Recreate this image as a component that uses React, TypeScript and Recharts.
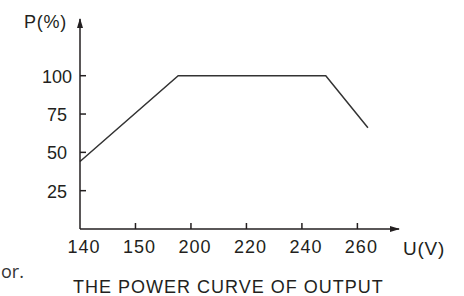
import React from 'react';
import { LineChart, Line, XAxis, YAxis } from 'recharts';

// voltage axis: labels sit on evenly spaced ticks (not a linear voltage scale)
const voltageLabels = ['140', '150', '200', '220', '240', '260'];
const voltageTicks = [0, 1, 2, 3, 4, 5];
const powerTicks = [25, 50, 75, 100];

// curve corners, x given in tick units along the voltage axis
const curveU = [0, 1.77, 4.43, 5.19];
const curveP = [44, 100, 100, 66];

const data = curveU.map((u, i) => ({ u, p: curveP[i] }));

const ink = '#231f20';
const font = '"Liberation Sans", Arial, sans-serif';

const PowerTick = (props: any) => {
  const { x, y, payload } = props;
  return (
    <g>
      <line x1={x} x2={x + 6} y1={y} y2={y} stroke={ink} strokeWidth={1.5} />
      <text x={x - 23} y={y + 1} textAnchor="middle" dominantBaseline="central" fontSize={18} fill={ink} fontFamily={font}>
        {payload.value}
      </text>
    </g>
  );
};

const VoltageTick = (props: any) => {
  const { x, y, payload } = props;
  return (
    <g>
      {payload.value > 0 && <line x1={x} x2={x} y1={y} y2={y - 6} stroke={ink} strokeWidth={1.5} />}
      <text x={x + 4} y={y + 24} textAnchor="middle" fontSize={18} letterSpacing={1} fill={ink} fontFamily={font}>
        {voltageLabels[payload.value]}
      </text>
    </g>
  );
};

export default function App() {
  return (
    <div style={{ position: 'absolute', left: 0, top: 0, width: 464, height: 296, background: '#fff' }}>
      <LineChart width={464} height={296} data={data} margin={{ top: 19, right: 65, bottom: 0, left: 0 }}>
        <defs>
          <marker id="arrowHead" viewBox="0 0 10 10" refX={9} refY={5} markerWidth={10} markerHeight={10}
            markerUnits="userSpaceOnUse" orient="auto-start-reverse">
            <path d="M0,2 L10,5 L0,8 Z" fill={ink} />
          </marker>
        </defs>
        <XAxis
          dataKey="u"
          type="number"
          domain={[0, 5.75]}
          ticks={voltageTicks}
          height={67}
          tickSize={0}
          tickMargin={0}
          tickLine={false}
          tick={<VoltageTick />}
          axisLine={{ stroke: ink, strokeWidth: 1.5, markerEnd: 'url(#arrowHead)' }}
          interval={0}
        />
        <YAxis
          type="number"
          domain={[0, 137]}
          ticks={powerTicks}
          width={80}
          tickSize={0}
          tickMargin={0}
          tickLine={false}
          tick={<PowerTick />}
          axisLine={{ stroke: ink, strokeWidth: 1.5, markerStart: 'url(#arrowHead)' }}
          interval={0}
        />
        <Line type="linear" dataKey="p" stroke="#333" strokeWidth={1.5} dot={false} isAnimationActive={false} />
      </LineChart>
      <svg width={464} height={296} style={{ position: 'absolute', left: 0, top: 0, pointerEvents: 'none' }}>
        <text x={45.5} y={28} textAnchor="middle" fontSize={18} letterSpacing={0.8} fill={ink} fontFamily={font}>P(%)</text>
        <text x={424} y={255} textAnchor="middle" fontSize={19} letterSpacing={0.8} fill={ink} fontFamily={font}>U(V)</text>
        <text x={73} y={293} fontSize={18} letterSpacing={1} fill={ink} fontFamily={font}>THE POWER CURVE OF OUTPUT</text>
        <text x={1} y={278} fontSize={18} fill="#333" fontFamily='"Open Sans", sans-serif'>or.</text>
      </svg>
    </div>
  );
}
